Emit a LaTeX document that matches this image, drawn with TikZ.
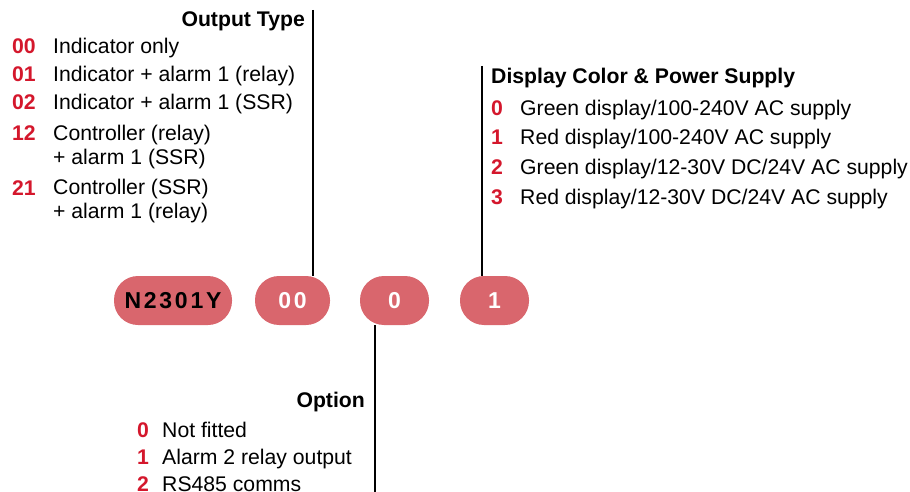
\documentclass[tikz,border=0pt]{standalone}
\usepackage{fontspec}
\setmainfont{Liberation Sans}
\definecolor{codered}{HTML}{D4172C}
\definecolor{pillred}{HTML}{D9666D}
\newcommand{\lblsize}{\fontsize{21.2}{24}\selectfont}

\begin{document}
\begin{tikzpicture}[x=1pt, y=-1pt,
    pill/.style={fill=pillred, rounded corners=24pt, minimum height=49pt, inner sep=0pt,
      font=\fontsize{23}{28}\selectfont\bfseries\addfontfeature{LetterSpace=12}},
    code/.style={anchor=base west, inner sep=0pt, text=codered, font=\lblsize\bfseries},
    desc/.style={anchor=base west, inner sep=0pt, align=left, font=\lblsize},
    head/.style={inner sep=0pt, font=\lblsize\bfseries},
    stem/.style={line width=2.4pt}]
  \useasboundingbox (0,0) rectangle (910,492);

  % order code pills
  \node [pill, minimum width=118pt] (model) at (173,300.5) {N2301Y};
  \node [pill, minimum width=75pt, text=white] (ptype) at (292.5,300.5) {00};
  \node [pill, minimum width=69pt, text=white] (popt) at (394.5,300.5) {0};
  \node [pill, minimum width=69pt, text=white] (pdisp) at (494.5,300.5) {1};

  % output type
  \coordinate (otop) at (313,10);
  \draw [stem] (otop) -- (otop |- ptype.north);
  \node [head, anchor=base east] (outtype) at (305,26.5) {Output Type};
  \node [code] (c00) at (12,53.5) {00};
  \node [desc] (d00) at (53,53.5) {Indicator only};
  \node [code] (c01) at (12,81.5) {01};
  \node [desc] (d01) at (53,81.5) {Indicator + alarm 1 (relay)};
  \node [code] (c02) at (12,109.5) {02};
  \node [desc] (d02) at (53,109.5) {Indicator + alarm 1 (SSR)};
  \node [code] (c12) at (12,140.5) {12};
  \node [desc] (d12) at (53,164.5) {Controller (relay)\\+ alarm 1 (SSR)};
  \node [code] (c21) at (12,195.5) {21};
  \node [desc] (d21) at (53,218.5) {Controller (SSR)\\+ alarm 1 (relay)};

  % display colour and supply
  \coordinate (dtop) at (482,66);
  \draw [stem] (dtop) -- (dtop |- pdisp.north);
  \node [head, anchor=base west] (display) at (491,83.5) {Display Color \& Power Supply};
  \node [code] (e0) at (491,115.5) {0};
  \node [desc] (f0) at (520,115.5) {Green display/100-240V AC supply};
  \node [code] (e1) at (491,144.5) {1};
  \node [desc] (f1) at (520,144.5) {Red display/100-240V AC supply};
  \node [code] (e2) at (491,174.5) {2};
  \node [desc] (f2) at (520,174.5) {Green display/12-30V DC/24V AC supply};
  \node [code] (e3) at (491,204.5) {3};
  \node [desc] (f3) at (520,204.5) {Red display/12-30V DC/24V AC supply};

  % option
  \coordinate (obot) at (375,495);
  \draw [stem] (obot |- popt.south) -- (obot);
  \node [head, anchor=base east] (option) at (365,407.5) {Option};
  \node [code] (g0) at (137,437.5) {0};
  \node [desc] (h0) at (162,437.5) {Not fitted};
  \node [code] (g1) at (137,464.5) {1};
  \node [desc] (h1) at (162,464.5) {Alarm 2 relay output};
  \node [code] (g2) at (137,491.5) {2};
  \node [desc] (h2) at (162,491.5) {RS485 comms};
\end{tikzpicture}
\end{document}
